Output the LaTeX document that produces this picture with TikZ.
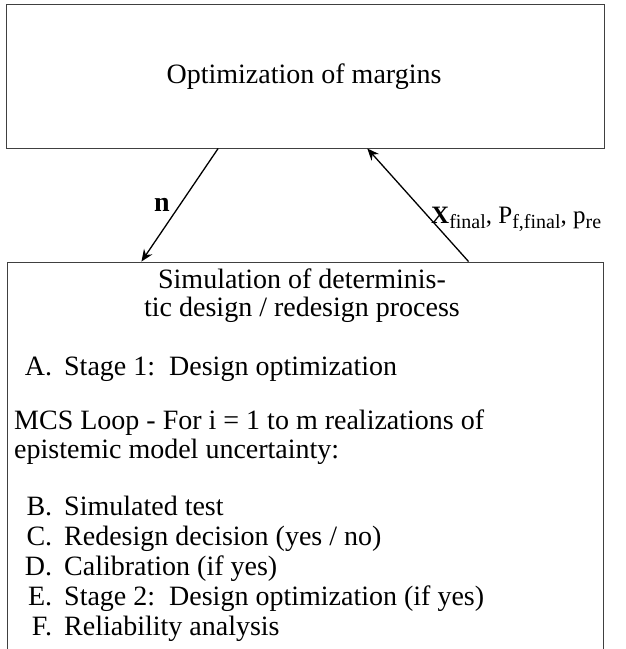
\documentclass[tikz,border=0pt]{standalone}
\usepackage{fontspec}
\setmainfont{Liberation Serif}
\usetikzlibrary{arrows.meta}
\tikzset{
  box/.style={draw=black!75,line width=0.9pt},
  txt/.style={font=\fontsize{28}{30}\selectfont,inner sep=0pt},
  item/.style={txt,anchor=base west},
  flow/.style={line width=1.3pt,-{Stealth[length=12pt,width=10pt,inset=4pt]}}
}
\newcommand{\lbl}[1]{\makebox[28pt][r]{#1}\hspace{12pt}}
\newcommand{\sub}[1]{\raisebox{-5pt}{\fontsize{20}{20}\selectfont #1}}
\begin{document}
\begin{tikzpicture}[x=1pt,y=-1pt]
\useasboundingbox (0,0) rectangle (625,649);
% two boxes
\node[box,minimum width=598pt,minimum height=144pt] (opt) at (305,76) {};
\node[box,minimum width=596pt,minimum height=440pt] (sim) at (305,482) {};
\node[txt,anchor=base] (optlab) at (304,83) {Optimization of margins};

% text in the lower box
\node[txt,anchor=base] (title1) at (302,288) {Simulation of determinis-};
\node[txt,anchor=base] (title2) at (302,316) {tic design / redesign process};
\node[item] (stA) at (24,375) {\lbl{A.}Stage 1:\ \ Design optimization};
\node[item] (mcs1) at (14,429) {MCS Loop - For i = 1 to m realizations of};
\node[item] (mcs2) at (14,458) {epistemic model uncertainty:};
\node[item] (stB) at (24,515) {\lbl{B.}Simulated test};
\node[item] (stC) at (24,545) {\lbl{C.}Redesign decision (yes / no)};
\node[item] (stD) at (24,575) {\lbl{D.}Calibration (if yes)};
\node[item] (stE) at (24,605) {\lbl{E.}Stage 2:\ \ Design optimization (if yes)};
\node[item] (stF) at (24,635) {\lbl{F.}Reliability analysis};

\path (opt.south west) -- (opt.south east) coordinate[pos=0.355] (o1);
\path (sim.north west) -- (sim.north east) coordinate[pos=0.226] (s1);
\draw[flow] (o1) -- (s1);

\path (opt.south west) -- (opt.south east) coordinate[pos=0.604] (o2);
\path (sim.north west) -- (sim.north east) coordinate[pos=0.774] (s2);
\draw[flow] (s2) -- (o2);

% labels on the arrows
\node[txt] (nlab) at (162,205) {\textbf{n}};
\node[anchor=base west,inner sep=0pt,font=\fontsize{25}{26}\selectfont] (xlab) at (431,223)
  {\textbf{X}\sub{final}, P\sub{f,final}, p\sub{re}};
\end{tikzpicture}
\end{document}
